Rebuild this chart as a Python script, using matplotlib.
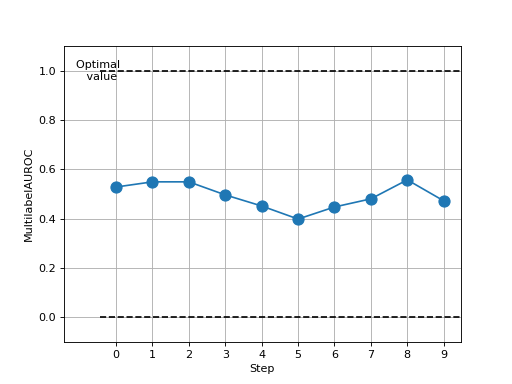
import numpy as np
from matplotlib import pyplot as plt

steps = [0, 1, 2, 3, 4, 5, 6, 7, 8, 9]
scores = [0.528, 0.549, 0.549, 0.496, 0.451, 0.398, 0.447, 0.480, 0.557, 0.472]
lower_bound = 0.0
upper_bound = 1.0

fig, ax = plt.subplots(figsize=(6.4, 4.8), dpi=80)
ax.plot(steps, scores, marker="o", markersize=10, linestyle="-")

ax.hlines(lower_bound, -0.45, 9.5, linestyles="dashed", colors="k")
ax.hlines(upper_bound, -0.45, 9.5, linestyles="dashed", colors="k")
ax.text(-0.45, upper_bound, "Optimal \n value", ha="center", va="center")

ax.set_xlim(-1.43, 9.47)
ax.set_ylim(-0.1, 1.1)
ax.set_xticks(steps)
ax.set_xlabel("Step")
ax.set_ylabel("MultilabelAUROC")
ax.grid(True)

fig.savefig("out.png")
